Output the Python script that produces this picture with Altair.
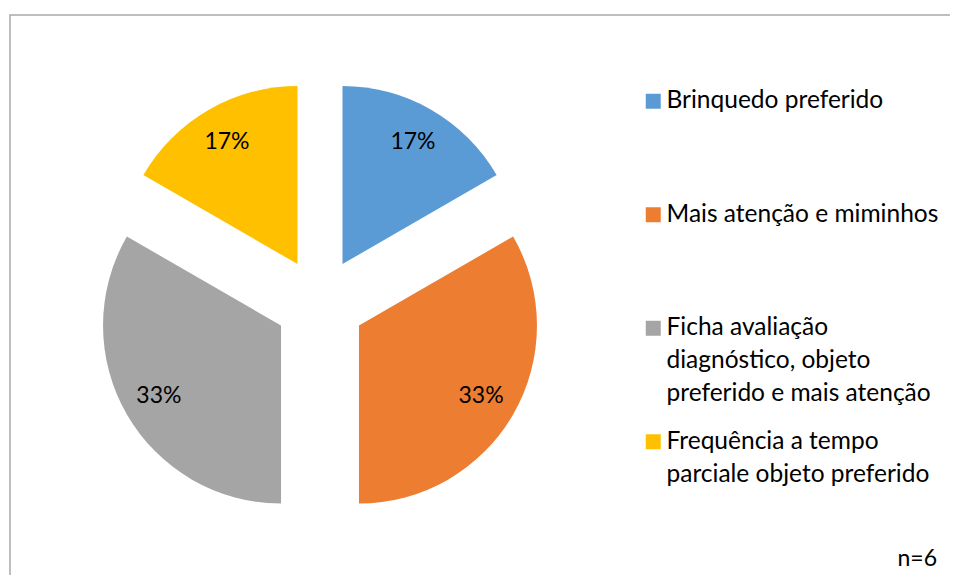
import json
import math

import altair as alt
import pandas as pd

# ---------------- data ----------------
categories = [
    "Brinquedo preferido",
    "Mais atenção e miminhos",
    "Ficha avaliação diagnóstico, objeto preferido e mais atenção",
    "Frequência a tempo parciale objeto preferido",
]
counts = [1, 2, 2, 1]
colors = ["#5B9BD5", "#ED7D31", "#A5A5A5", "#FFC000"]
legend_lines = [
    ["Brinquedo preferido"],
    ["Mais atenção e miminhos"],
    ["Ficha avaliação", "diagnóstico, objeto", "preferido e mais atenção"],
    ["Frequência a tempo", "parciale objeto preferido"],
]
note = f"n={sum(counts)}"

df = pd.DataFrame({"cat": categories, "count": counts, "idx": list(range(len(categories)))})

# ---------------- layout / style ----------------
W, H = 942, 567
CX, CY = 312, 295
R = 178
EXPLODE = 45
LABEL_R = 141
FONT = "Lato"
FS = 23
LEG_FS = 24.5
LH = 33
BORDER = "#A9A9A9"
trailing_blanks = [2, 2, 0, 0]  # blank lines to even out legend spacing

total = sum(counts)
offsets = []
cum = 0
for c in counts:
    mid = (cum + c / 2) / total * 2 * math.pi
    offsets.append((EXPLODE * math.sin(mid), -EXPLODE * math.cos(mid)))
    cum += c

parts = []
for cat, lines, b in zip(categories, legend_lines, trailing_blanks):
    arr = lines + [""] * b
    parts.append(f"datum.label == {json.dumps(cat, ensure_ascii=False)} ? {json.dumps(arr, ensure_ascii=False)}")
label_expr = " : ".join(parts) + " : datum.label"

legend = alt.Legend(
    title=None,
    orient="none",
    legendX=633,
    legendY=81,
    padding=0,
    symbolType="square",
    symbolSize=225,
    symbolStrokeWidth=0,
    symbolOpacity=1,
    labelFont=FONT,
    labelFontSize=LEG_FS,
    labelColor="black",
    labelLimit=500,
    labelOffset=1,
    labelBaseline="middle",
    rowPadding=22.5,
    labelExpr=label_expr,
)

color_enc = alt.Color("cat:N", scale=alt.Scale(domain=categories, range=colors), legend=legend)
theta_enc = alt.Theta("count:Q", stack=True)
order_enc = alt.Order("idx:Q")

base = alt.Chart(df)
layers = []
for i, cat in enumerate(categories):
    dx, dy = offsets[i]
    op = alt.when(alt.datum.cat == cat).then(alt.value(1)).otherwise(alt.value(0))
    arc = base.mark_arc(outerRadius=R).encode(
        theta=theta_enc,
        order=order_enc,
        color=color_enc,
        opacity=op,
        x=alt.value(CX + dx),
        y=alt.value(CY + dy),
    )
    layers.append(arc)

for i, cat in enumerate(categories):
    dx, dy = offsets[i]
    op = alt.when(alt.datum.cat == cat).then(alt.value(1)).otherwise(alt.value(0))
    txt = (
        base.transform_joinaggregate(total="sum(count)")
        .transform_calculate(pct="datum.count / datum.total")
        .mark_text(radius=LABEL_R, font=FONT, fontSize=FS, color="black")
        .encode(
            theta=theta_enc,
            order=order_enc,
            text=alt.Text("pct:Q", format=".0%"),
            opacity=op,
            x=alt.value(CX + dx),
            y=alt.value(CY + dy),
        )
    )
    layers.append(txt)

one = alt.Chart(pd.DataFrame({"a": [0]}))
border = one.mark_rect(fillOpacity=0, stroke=BORDER, strokeWidth=1.5).encode(
    x=alt.value(2), x2=alt.value(W + 20), y=alt.value(7), y2=alt.value(H + 20)
)
n_text = one.mark_text(font=FONT, fontSize=FS, color="black", align="right", baseline="middle").encode(
    x=alt.value(929), y=alt.value(551), text=alt.value(note)
)

chart = (
    alt.layer(*layers, border, n_text)
    .properties(width=W, height=H, autosize=alt.AutoSizeParams(type="none"), padding=0, background="white")
    .configure(style={"guide-label": {"lineHeight": LH}})
    .configure_view(stroke="transparent", strokeWidth=0)
)

chart.save("out.html", embed_options={"renderer": "svg", "actions": False})
